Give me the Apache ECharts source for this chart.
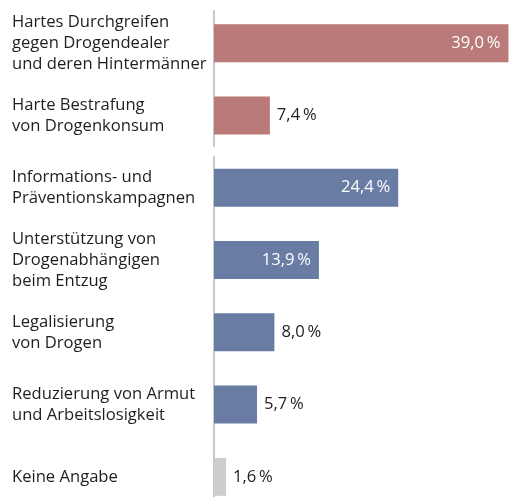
<!DOCTYPE html>
<html>
<head>
<meta charset="utf-8">
<script src="https://cdn.jsdelivr.net/npm/echarts@6/dist/echarts.min.js"></script>
<style>
  html, body { margin: 0; padding: 0; background: #fff; }
  #chart { width: 516px; height: 497px; }
</style>
</head>
<body>
<div id="chart"></div>
<script>
// Kategorien (oben nach unten)
var categories = [
    'Hartes Durchgreifen\ngegen Drogendealer\nund deren Hintermänner',
    'Harte Bestrafung\nvon Drogenkonsum',
    'Informations- und\nPräventionskampagnen',
    'Unterstützung von\nDrogenabhängigen\nbeim Entzug',
    'Legalisierung\nvon Drogen',
    'Reduzierung von Armut\nund Arbeitslosigkeit',
    'Keine Angabe'
];
var values = [39.0, 7.4, 24.4, 13.9, 8.0, 5.7, 1.6];
var groups = ['repression', 'repression', 'hilfe', 'hilfe', 'hilfe', 'hilfe', 'keine'];
var groupColors = { repression: '#B97A79', hilfe: '#697CA3', keine: '#CDCDCD' };
// Werte, die innerhalb des Balkens beschriftet werden
var insideMin = 10;

var FONT = '"Open Sans", "Noto Sans", sans-serif';

function fmt(v) {
    return v.toFixed(1).replace('.', ',') + '\u2009%';
}

var chart = echarts.init(document.getElementById('chart'), null, { renderer: 'canvas' });

var barData = values.map(function (v, i) {
    var inside = v >= insideMin;
    return {
        value: v,
        itemStyle: { color: groupColors[groups[i]] },
        label: {
            position: inside ? 'insideRight' : 'right',
            distance: inside ? 8 : 7,
            color: inside ? '#ffffff' : '#222222'
        }
    };
});

// Gruppenlinien: je ein eigenes Raster nur fuer die senkrechte Achsenlinie
var lineGroups = [['a', 'b'], ['c', 'd', 'e', 'f', 'g']];

chart.setOption({
    animation: false,
    grid: [
        { left: 214, right: 0, top: 7, height: 506, outerBoundsMode: 'none', containLabel: false },
        { left: 214, width: 10, top: 11, height: 135, outerBoundsMode: 'none' },
        { left: 214, width: 10, top: 157, height: 360, outerBoundsMode: 'none' }
    ],
    xAxis: [
        { gridIndex: 0, type: 'value', min: 0, max: 40, show: false },
        { gridIndex: 1, type: 'value', show: false },
        { gridIndex: 2, type: 'value', show: false }
    ],
    yAxis: [
        {
            gridIndex: 0,
            type: 'category',
            data: categories,
            inverse: true,
            axisLine: { show: false },
            axisTick: { show: false },
            axisLabel: {
                align: 'left',
                margin: 202,
                fontFamily: FONT,
                fontSize: 16.6,
                lineHeight: 21,
                color: '#1e1e1e'
            }
        },
        {
            gridIndex: 1, type: 'category', data: lineGroups[0],
            axisLine: { show: true, lineStyle: { color: '#c8c8c8', width: 2 } },
            axisTick: { show: false }, axisLabel: { show: false }
        },
        {
            gridIndex: 2, type: 'category', data: lineGroups[1],
            axisLine: { show: true, lineStyle: { color: '#c8c8c8', width: 2 } },
            axisTick: { show: false }, axisLabel: { show: false }
        }
    ],
    series: [
        {
            type: 'bar',
            xAxisIndex: 0,
            yAxisIndex: 0,
            data: barData,
            barWidth: 38,
            label: {
                show: true,
                fontFamily: FONT,
                fontSize: 16.6,
                formatter: function (p) { return fmt(p.value); }
            }
        }
    ]
});
</script>
</body>
</html>
